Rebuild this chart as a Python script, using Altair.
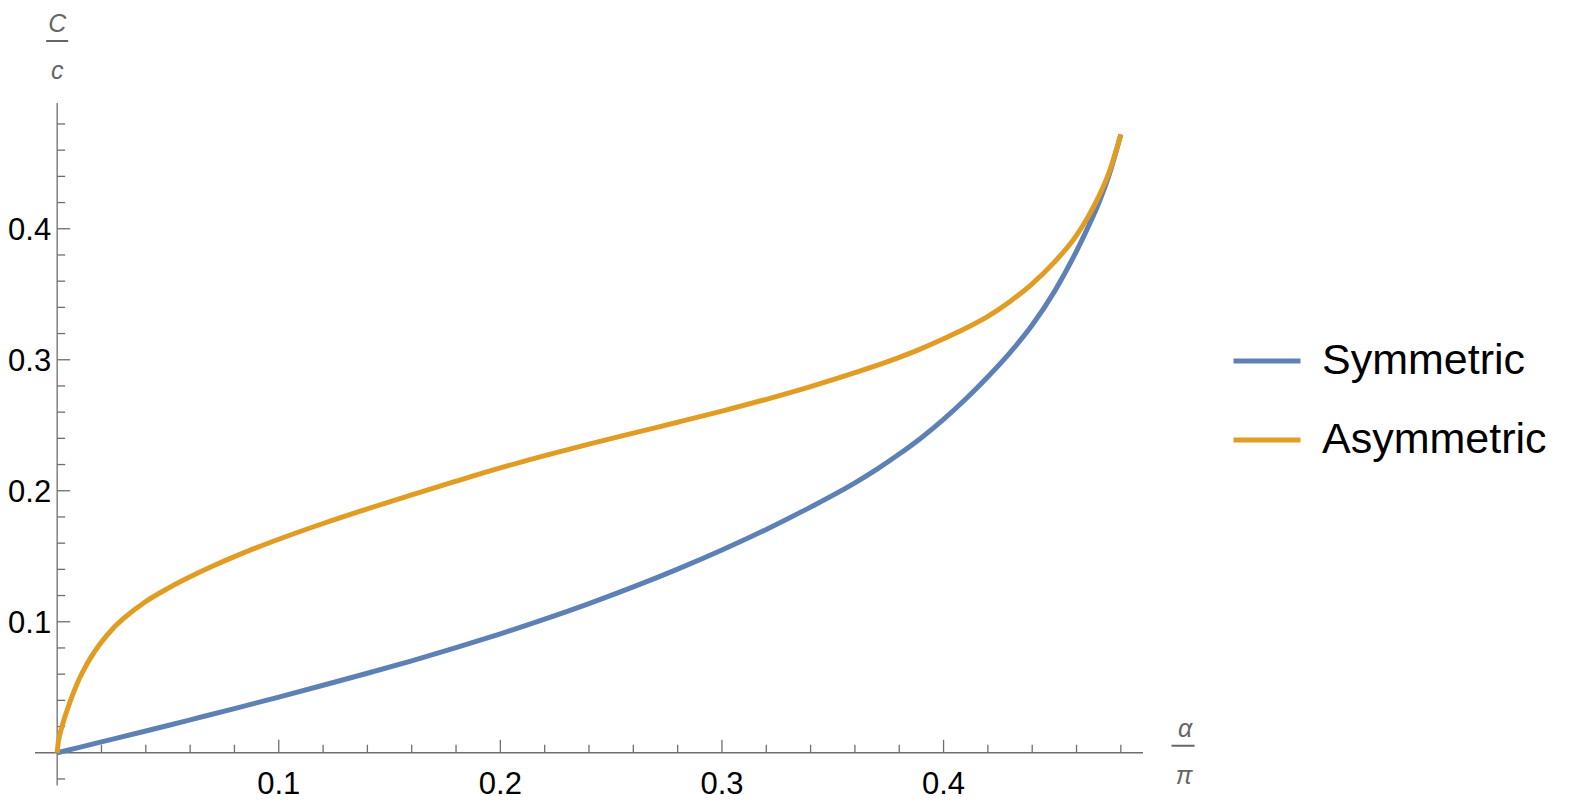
import altair as alt
import pandas as pd

# ---- data ----
alpha_sym = [0, 0.02, 0.04, 0.05, 0.06, 0.08, 0.10, 0.12, 0.14, 0.16, 0.18, 0.20, 0.22, 0.24,
             0.26, 0.28, 0.30, 0.32, 0.34, 0.36, 0.37, 0.38, 0.39, 0.40, 0.41, 0.42, 0.43,
             0.44, 0.45, 0.46, 0.465, 0.47, 0.475, 0.48]
c_sym = [0, 0.0083, 0.0166, 0.0208, 0.0251, 0.0337, 0.0425, 0.0515, 0.0607, 0.0702, 0.0802,
         0.0908, 0.1020, 0.1139, 0.1266, 0.1402, 0.1548, 0.1705, 0.1875, 0.2060, 0.2165,
         0.2280, 0.2405, 0.2545, 0.2700, 0.2870, 0.3055, 0.3265, 0.3520, 0.3830, 0.4005,
         0.4195, 0.4425, 0.472]

alpha_asym = [0, 0.0005, 0.001, 0.002, 0.0035, 0.005, 0.0075, 0.01, 0.0125, 0.015, 0.02,
              0.025, 0.03, 0.04, 0.05, 0.06, 0.07, 0.08, 0.09, 0.10, 0.12, 0.14, 0.16, 0.18,
              0.20, 0.22, 0.24, 0.26, 0.28, 0.30, 0.32, 0.34, 0.36, 0.38, 0.39, 0.40, 0.41,
              0.42, 0.43, 0.44, 0.45, 0.46, 0.465, 0.47, 0.475, 0.48]
c_asym = [0, 0.008, 0.0125, 0.019, 0.0275, 0.035, 0.0465, 0.0565, 0.0648, 0.0722, 0.0845,
          0.0945, 0.1025, 0.1155, 0.1255, 0.1343, 0.1423, 0.1497, 0.1566, 0.1630, 0.1750,
          0.1862, 0.1969, 0.2073, 0.2174, 0.2268, 0.2356, 0.2440, 0.2523, 0.2608, 0.2698,
          0.2795, 0.2901, 0.3018, 0.3085, 0.3160, 0.3240, 0.3331, 0.3445, 0.3580, 0.3745,
          0.3950, 0.4085, 0.4245, 0.4445, 0.472]

series_names = ["Symmetric", "Asymmetric"]
series_colors = ["#5E81B5", "#E19C24"]

x_major = [0.1, 0.2, 0.3, 0.4]
x_major_labels = ["0.1", "0.2", "0.3", "0.4"]
x_minor = [0.02, 0.04, 0.06, 0.08, 0.12, 0.14, 0.16, 0.18, 0.22, 0.24, 0.26, 0.28,
           0.32, 0.34, 0.36, 0.38, 0.42, 0.44, 0.46, 0.48]
y_major = [0.1, 0.2, 0.3, 0.4]
y_major_labels = ["0.1", "0.2", "0.3", "0.4"]
y_minor = [-0.02, 0.02, 0.04, 0.06, 0.08, 0.12, 0.14, 0.16, 0.18, 0.22, 0.24, 0.26, 0.28,
           0.32, 0.34, 0.36, 0.38, 0.42, 0.44, 0.46, 0.48]
x_range = [-0.01, 0.49]
y_range = [-0.025, 0.496]

# ---- styling ----
FONT = "Liberation Sans"
AX = "#6e6e6e"
LBL = "#666666"
W, H = 1108, 682.5
PX_PER_X = W / (x_range[1] - x_range[0])

xs = alt.Scale(domain=x_range, nice=False, zero=False)
ys = alt.Scale(domain=y_range, nice=False, zero=False)
cs = alt.Scale(domain=series_names, range=series_colors)


def X(field=None, datum=None):
    if datum is not None:
        return alt.X(datum=datum, scale=xs, axis=None)
    return alt.X(field, type="quantitative", scale=xs, axis=None)


def Y(field=None, datum=None):
    if datum is not None:
        return alt.Y(datum=datum, scale=ys, axis=None)
    return alt.Y(field, type="quantitative", scale=ys, axis=None)


legend = alt.Legend(
    title=None, orient="none", legendX=1196, legendY=222, padding=0,
    symbolType="stroke", symbolSize=4489, symbolStrokeWidth=5,
    labelFont=FONT, labelFontSize=43, labelColor="black", labelOffset=19,
    rowPadding=21, labelLimit=0,
)

df_sym = pd.DataFrame({"a": alpha_sym, "c": c_sym, "s": series_names[0]})
df_asym = pd.DataFrame({"a": alpha_asym, "c": c_asym, "s": series_names[1]})

line_sym = alt.Chart(df_sym).mark_line(strokeWidth=5, interpolate="monotone").encode(
    x=X("a"), y=Y("c"), color=alt.Color("s:N", scale=cs, legend=legend))
line_asym = alt.Chart(df_asym).mark_line(strokeWidth=5, interpolate="monotone").encode(
    x=X("a"), y=Y("c"), color=alt.Color("s:N", scale=cs, legend=legend))

# axes drawn through the scales
x_axis_line = alt.Chart(pd.DataFrame({"x0": [x_range[0]], "x1": [x_range[1]], "y0": [0]})).mark_rule(
    color=AX, strokeWidth=1.3).encode(x=X("x0"), x2="x1", y=Y("y0"))
y_axis_line = alt.Chart(pd.DataFrame({"y0": [y_range[0]], "y1": [y_range[1]], "x0": [0]})).mark_rule(
    color=AX, strokeWidth=1.3).encode(y=Y("y0"), y2="y1", x=X("x0"))

x_major_ticks = alt.Chart(pd.DataFrame({"v": x_major})).mark_tick(
    orient="vertical", size=13, thickness=1.3, yOffset=-6.5, color=AX, opacity=1).encode(
    x=X("v"), y=Y(datum=0))
x_minor_ticks = alt.Chart(pd.DataFrame({"v": x_minor})).mark_tick(
    orient="vertical", size=8, thickness=1.3, yOffset=-4, color=AX, opacity=1).encode(
    x=X("v"), y=Y(datum=0))
y_major_ticks = alt.Chart(pd.DataFrame({"v": y_major})).mark_tick(
    orient="horizontal", size=13, thickness=1.3, xOffset=6.5, color=AX, opacity=1).encode(
    y=Y("v"), x=X(datum=0))
y_minor_ticks = alt.Chart(pd.DataFrame({"v": y_minor})).mark_tick(
    orient="horizontal", size=8, thickness=1.3, xOffset=4, color=AX, opacity=1).encode(
    y=Y("v"), x=X(datum=0))

x_labels = alt.Chart(pd.DataFrame({"v": x_major, "t": x_major_labels})).mark_text(
    font=FONT, fontSize=31, color="black", align="center", baseline="alphabetic", dy=41).encode(
    x=X("v"), y=Y(datum=0), text="t:N")
y_labels = alt.Chart(pd.DataFrame({"v": y_major, "t": y_major_labels})).mark_text(
    font=FONT, fontSize=31, color="black", align="right", baseline="alphabetic", dx=-6, dy=11).encode(
    y=Y("v"), x=X(datum=0), text="t:N")


def label_piece(txt, xd, yd, dx, dy, size=25):
    return alt.Chart().mark_text(
        text=txt, font=FONT, fontSize=size, fontStyle="italic",
        color=LBL, align="center", baseline="alphabetic", dx=dx, dy=dy).encode(
        x=X(datum=xd), y=Y(datum=yd))


def frac_bar(x_center, yd, y_off, half_px=11):
    # fraction bar of an axis label, placed relative to the axis end
    return alt.Chart().mark_rule(color=LBL, strokeWidth=2, yOffset=y_off).encode(
        x=X(datum=x_center - half_px / PX_PER_X),
        x2=alt.X2(datum=x_center + half_px / PX_PER_X),
        y=Y(datum=yd))


y_title = [
    label_piece("C", 0, y_range[1], 0, -71),
    frac_bar(0, y_range[1], -62),
    label_piece("c", 0, y_range[1], 0, -24),
]
x_title = [
    label_piece("\u03b1", x_range[1], 0, 42, -16),
    frac_bar(x_range[1] + 40 / PX_PER_X, 0, -7, half_px=11.5),
    label_piece("\u03c0", x_range[1], 0, 41, 31),
]

chart = alt.layer(
    x_axis_line, y_axis_line, x_major_ticks, x_minor_ticks, y_major_ticks, y_minor_ticks,
    x_labels, y_labels, *y_title, *x_title, line_sym, line_asym,
).properties(
    width=W, height=H,
    autosize=alt.AutoSizeParams(type="none"),
    padding={"left": 27, "top": 95, "right": 407, "bottom": 14},
).configure_view(stroke=None)

chart.save("out.html", embed_options={"renderer": "svg", "actions": False})
